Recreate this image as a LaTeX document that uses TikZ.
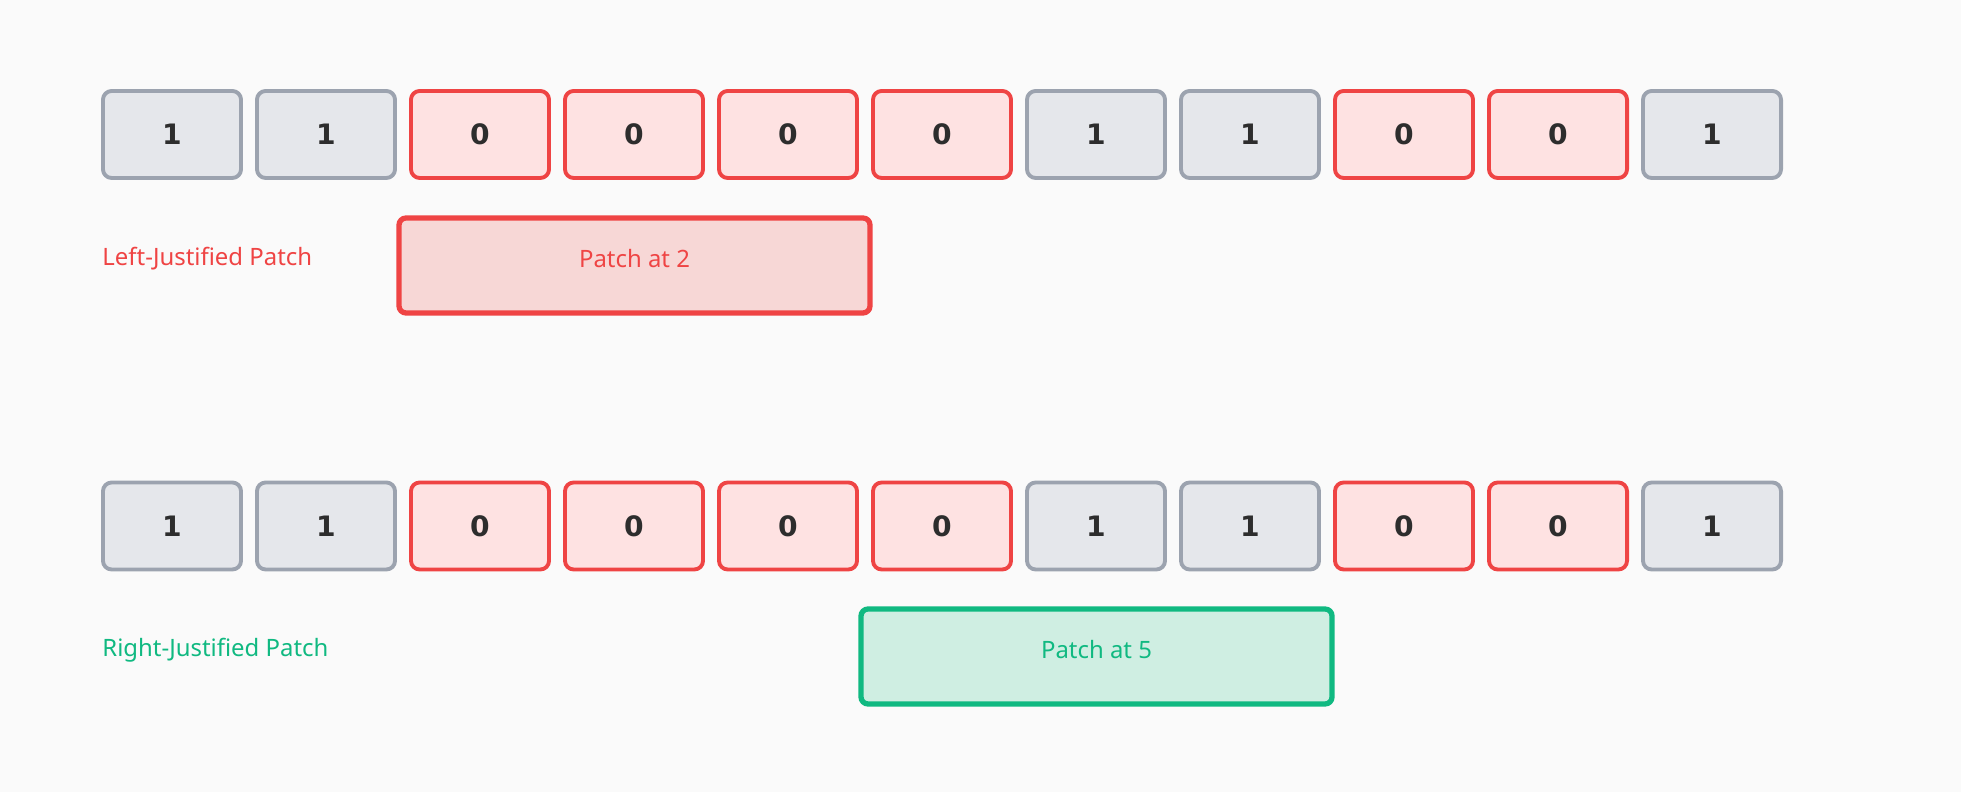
\documentclass[tikz,border=0pt]{standalone}
\usepackage{fontspec}
\setmainfont{DejaVu Sans}
\newfontfamily\lab{Noto Sans}
\definecolor{bg}{HTML}{FAFAFA}
\definecolor{gfill}{HTML}{E5E7EB}
\definecolor{gline}{HTML}{9CA3AF}
\definecolor{rfill}{HTML}{FEE2E2}
\definecolor{rline}{HTML}{EF4444}
\definecolor{pfill}{HTML}{F7D7D6}
\definecolor{grn}{HTML}{10B981}
\definecolor{gpfill}{HTML}{CFEEE2}
\definecolor{txt}{HTML}{2D2D2D}
\begin{document}
\begin{tikzpicture}[x=0.01cm,y=-0.01cm,
 cell/.style={rounded corners=2.5pt,line width=1.1pt,minimum width=1.38cm,minimum height=0.87cm,inner sep=0,font=\fontsize{8}{9}\selectfont\bfseries,text=txt},
 one/.style={cell,fill=gfill,draw=gline},
 zero/.style={cell,fill=rfill,draw=rline},
 lbl/.style={anchor=west,font=\lab\fontsize{6.8}{8}\selectfont\bfseries},
 ptitle/.style={font=\lab\fontsize{6.8}{8}\selectfont\bfseries}]
\fill[bg] (0,0) rectangle (1961,792);
\foreach \r/\y in {a/134.5,b/526}{
 \foreach \v [count=\i from 0] in {1,1,0,0,0,0,1,1,0,0,1}{
  \ifnum\v=1 \node[one] (\r\i) at (172+154*\i,\y) {1};
  \else \node[zero] (\r\i) at (172+154*\i,\y) {0};\fi
 }}
\node[lbl,text=rline] (l1) at (90,259) {Left-Justified Patch};
\draw[line width=1.5pt,draw=rline,fill=pfill,rounded corners=2pt] (399,218) rectangle (870,313);
\node[ptitle,text=rline] (p1) at (634.5,259) {Patch at 2};
\node[lbl,text=grn] (l2) at (90,650) {Right-Justified Patch};
\draw[line width=1.5pt,draw=grn,fill=gpfill,rounded corners=2pt] (861,609) rectangle (1332,704);
\node[ptitle,text=grn] (p2) at (1096.5,650) {Patch at 5};
\end{tikzpicture}
\end{document}
